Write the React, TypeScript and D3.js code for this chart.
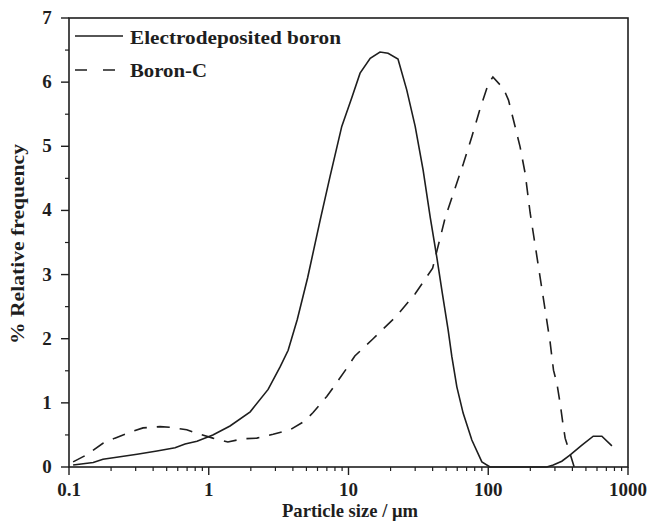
import React from "react";
import * as d3 from "d3";

const electroX = [0.107, 0.149, 0.175, 0.232, 0.307, 0.426, 0.574, 0.677, 0.824, 1.07, 1.42, 1.98, 2.66, 3.24, 3.70, 4.3, 5.1, 6.27, 7.38, 8.95, 10.6, 12.1, 14.3, 16.8, 19.2, 22.6, 26.1, 30.0, 34.2, 38.4, 43, 47, 51.6, 54.9, 59.6, 66.1, 76.3, 90.0, 103, 262, 292, 336, 386, 468, 564, 650, 767];
const electroY = [0.03, 0.07, 0.12, 0.16, 0.2, 0.25, 0.3, 0.36, 0.4, 0.5, 0.64, 0.86, 1.21, 1.56, 1.82, 2.3, 2.95, 3.85, 4.53, 5.31, 5.77, 6.14, 6.37, 6.47, 6.45, 6.36, 5.88, 5.31, 4.63, 3.9, 3.25, 2.7, 2.14, 1.72, 1.25, 0.84, 0.42, 0.08, 0, 0, 0.03, 0.09, 0.19, 0.34, 0.48, 0.48, 0.33];

const boronX = [0.107, 0.134, 0.175, 0.213, 0.281, 0.339, 0.448, 0.528, 0.696, 0.867, 1.07, 1.37, 1.76, 2.21, 2.89, 3.82, 4.89, 5.58, 6.99, 8.02, 9.72, 11.1, 15, 22, 30, 40, 49.1, 56.3, 66.4, 76.3, 87.5, 100.4, 108, 128.5, 139.6, 151.5, 169, 183.6, 199.5, 277, 293, 310, 327, 342, 355, 412];
const boronY = [0.08, 0.19, 0.37, 0.45, 0.55, 0.61, 0.63, 0.62, 0.58, 0.51, 0.45, 0.39, 0.44, 0.45, 0.51, 0.58, 0.72, 0.85, 1.10, 1.28, 1.54, 1.73, 2.0, 2.35, 2.7, 3.1, 3.88, 4.27, 4.73, 5.15, 5.59, 5.98, 6.08, 5.90, 5.72, 5.41, 4.99, 4.58, 3.96, 1.95, 1.51, 1.30, 0.99, 0.68, 0.45, 0];

const xMajorTicks = [0.1, 1, 10, 100, 1000];
const xTickLabels = ["0.1", "1", "10", "100", "1000"];
const yMajorTicks = [0, 1, 2, 3, 4, 5, 6, 7];
const seriesNames = ["Electrodeposited boron", "Boron-C"];
const xTitle = "Particle size / μm";
const yTitle = "% Relative frequency";

const FONT = "'Liberation Serif', 'Times New Roman', serif";
const INK = "#1e1e1e";

export default function App() {
  const left = 69, right = 628, top = 18, bottom = 467;
  const x = d3.scaleLog().domain([0.1, 1000]).range([left, right]);
  const y = d3.scaleLinear().domain([0, 7]).range([bottom, top]);

  const line = d3
    .line<[number, number]>()
    .x((d) => x(d[0]))
    .y((d) => y(d[1]));

  const electro = electroX.map((v, i) => [v, electroY[i]] as [number, number]);
  const boron = boronX.map((v, i) => [v, boronY[i]] as [number, number]);

  const xMinor: number[] = [];
  for (let e = -1; e < 3; e++) {
    for (let m = 2; m <= 9; m++) xMinor.push(m * Math.pow(10, e));
  }
  const yMinor = d3.range(0.5, 7, 1);

  return (
    <svg width={647} height={521} style={{ display: "block", position: "absolute", left: 0, top: 0 }}>
      <rect width={647} height={521} fill="#fff" />
      {/* frame */}
      <rect x={left} y={top} width={right - left} height={bottom - top} fill="none" stroke={INK} strokeWidth={1.6} />
      {/* x ticks */}
      {xMajorTicks.map((t, i) => (
        <g key={"xm" + i}>
          <line x1={x(t)} x2={x(t)} y1={bottom} y2={bottom + 8} stroke={INK} strokeWidth={1.4} />
          <text x={x(t)} y={bottom + 29} textAnchor="middle" fontFamily={FONT} fontWeight="bold" fontSize={19} fill={INK}>
            {xTickLabels[i]}
          </text>
        </g>
      ))}
      {xMinor.map((t, i) => (
        <line key={"xn" + i} x1={x(t)} x2={x(t)} y1={bottom} y2={bottom + 4} stroke={INK} strokeWidth={1.2} />
      ))}
      {/* y ticks */}
      {yMajorTicks.map((t) => (
        <g key={"ym" + t}>
          <line x1={left - 8} x2={left} y1={y(t)} y2={y(t)} stroke={INK} strokeWidth={1.4} />
          <text x={left - 22} y={y(t) + 6} textAnchor="middle" fontFamily={FONT} fontWeight="bold" fontSize={19} fill={INK}>
            {t}
          </text>
        </g>
      ))}
      {yMinor.map((t) => (
        <line key={"yn" + t} x1={left - 4} x2={left} y1={y(t)} y2={y(t)} stroke={INK} strokeWidth={1.2} />
      ))}
      {/* curves */}
      <path d={line(electro) || ""} fill="none" stroke={INK} strokeWidth={1.6} />
      <path d={line(boron) || ""} fill="none" stroke={INK} strokeWidth={1.6} strokeDasharray="13,10" />
      {/* legend */}
      <line x1={75} x2={123} y1={36} y2={36} stroke={INK} strokeWidth={1.6} />
      <text x={130} y={44} fontFamily={FONT} fontWeight="bold" fontSize={19} fill={INK} textLength={211} lengthAdjust="spacingAndGlyphs">
        {seriesNames[0]}
      </text>
      <line x1={75} x2={115} y1={70} y2={70} stroke={INK} strokeWidth={1.6} strokeDasharray="12,16" />
      <text x={130} y={77} fontFamily={FONT} fontWeight="bold" fontSize={19} fill={INK} textLength={77} lengthAdjust="spacingAndGlyphs">
        {seriesNames[1]}
      </text>
      {/* axis titles */}
      <text x={350} y={517} textAnchor="middle" fontFamily={FONT} fontWeight="bold" fontSize={19} fill={INK} textLength={136} lengthAdjust="spacingAndGlyphs">
        {xTitle}
      </text>
      <text
        transform={`translate(24, 244) rotate(-90)`}
        textAnchor="middle"
        fontFamily={FONT}
        fontWeight="bold"
        fontSize={19}
        fill={INK}
        textLength={200}
        lengthAdjust="spacingAndGlyphs"
      >
        {yTitle}
      </text>
    </svg>
  );
}
